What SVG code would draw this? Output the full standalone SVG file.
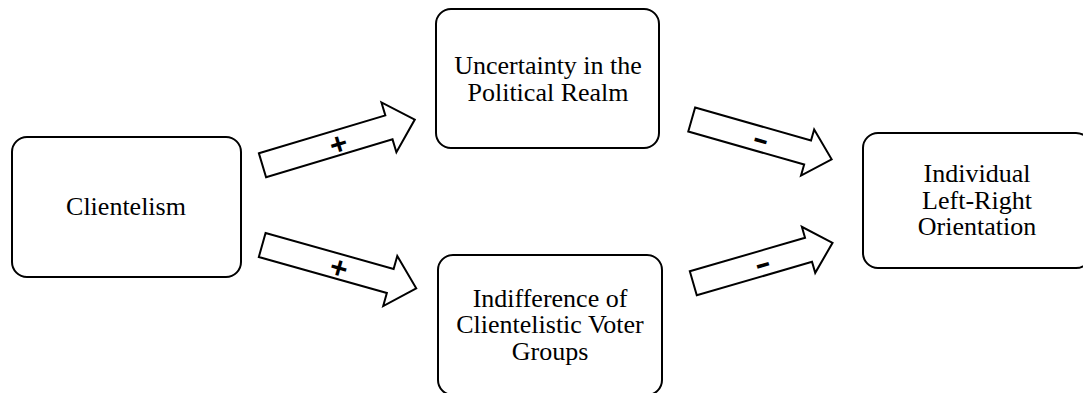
<svg xmlns="http://www.w3.org/2000/svg" width="1083" height="393" viewBox="0 0 1083 393">
<style>
.box{fill:#fff;stroke:#000;stroke-width:2}
.lbl{font-family:"Liberation Serif","Times New Roman",serif;font-size:26px;fill:#000;text-anchor:middle}
.arr{fill:#fff;stroke:#000;stroke-width:2;stroke-linejoin:miter}
.sign{font-family:"Liberation Sans",Arial,sans-serif;font-weight:bold;font-size:30px;fill:#000;text-anchor:middle}
</style>
<rect width="1083" height="393" fill="#fff"/>
<g id="connectors">
  <g id="arrow1" transform="translate(262.5,165.3) rotate(-16.7)">
    <polygon class="arr" points="0,-12.5 132,-12.5 132,-26 159,0 132,26 132,12.5 0,12.5"/>
    <text class="sign" x="79" y="11.5">+</text>
  </g>
  <g id="arrow2" transform="translate(262.2,245) rotate(15.7)">
    <polygon class="arr" points="0,-12.5 133,-12.5 133,-26 160,0 133,26 133,12.5 0,12.5"/>
    <text class="sign" x="80" y="11.5">+</text>
  </g>
  <g id="arrow3" transform="translate(691.7,119.5) rotate(15.9)">
    <polygon class="arr" points="0,-12.5 120.5,-12.5 120.5,-24 145.5,0 120.5,24 120.5,12.5 0,12.5"/>
    <text class="sign" x="72" y="9.5" textLength="16" lengthAdjust="spacingAndGlyphs">-</text>
  </g>
  <g id="arrow4" transform="translate(693.3,283.3) rotate(-16.2)">
    <polygon class="arr" points="0,-12.5 120,-12.5 120,-24 145,0 120,24 120,12.5 0,12.5"/>
    <text class="sign" x="72" y="10" textLength="16" lengthAdjust="spacingAndGlyphs">-</text>
  </g>
</g>
<g id="clientelism">
  <rect class="box" x="12" y="137" width="229" height="140" rx="15"/>
  <text class="lbl" x="126" y="215">Clientelism</text>
</g>
<g id="uncertainty">
  <rect class="box" x="436" y="9" width="223" height="139" rx="15"/>
  <text class="lbl" x="548" y="74">Uncertainty in the</text>
  <text class="lbl" x="548" y="100.5">Political Realm</text>
</g>
<g id="indifference">
  <rect class="box" x="438" y="255" width="224" height="140" rx="15"/>
  <text class="lbl" x="550" y="306.5">Indifference of</text>
  <text class="lbl" x="550" y="333">Clientelistic Voter</text>
  <text class="lbl" x="550" y="359.5">Groups</text>
</g>
<g id="orientation">
  <rect class="box" x="863" y="133" width="228" height="135" rx="15"/>
  <text class="lbl" x="977" y="182">Individual</text>
  <text class="lbl" x="977" y="208.5">Left-Right</text>
  <text class="lbl" x="977" y="235">Orientation</text>
</g>
</svg>
